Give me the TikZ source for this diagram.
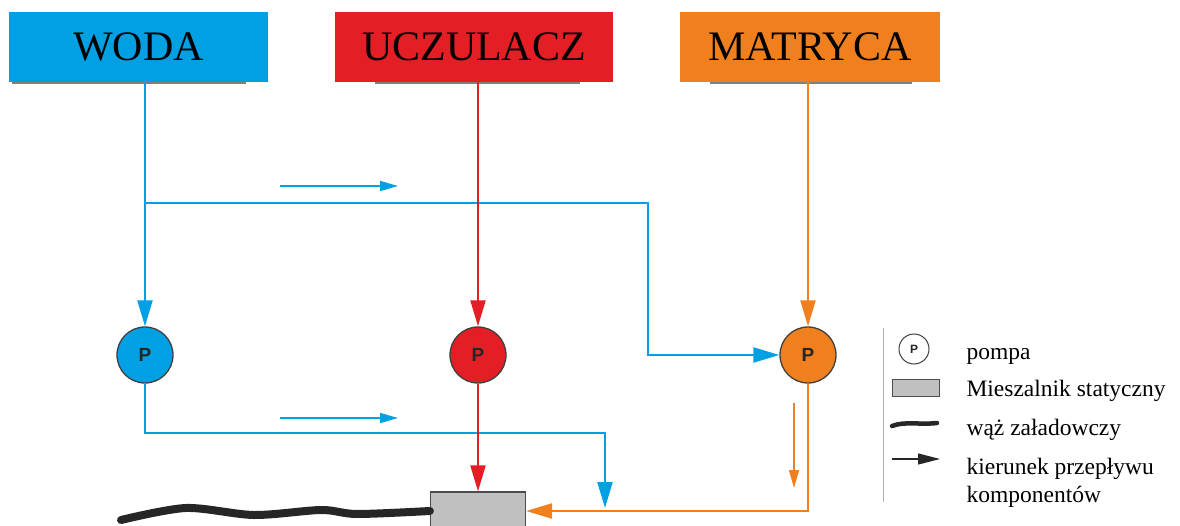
\documentclass[tikz,border=0pt]{standalone}
\usepackage{fontspec}
\setmainfont{Liberation Serif}
\newfontfamily\pumpfont{Liberation Sans}
\usetikzlibrary{arrows.meta}
\definecolor{woda}{RGB}{0,160,227}
\definecolor{uczul}{RGB}{227,30,36}
\definecolor{matr}{RGB}{240,128,30}
\definecolor{mixgray}{RGB}{192,192,192}

\begin{document}
\begin{tikzpicture}[
    x=1pt,y=-1pt,
    tank/.style={minimum width=#1, minimum height=70, inner sep=0pt, font=\fontsize{42}{46}\selectfont},
    pump/.style={circle, draw=black!75, line width=1.3pt, minimum size=56, inner sep=0pt,
      font=\pumpfont\bfseries\fontsize{19}{19}\selectfont, text=black!85},
    pipe/.style={line width=2.2pt},
    feed/.style={pipe, -{Triangle[length=26,width=15]}},
    flow/.style={line width=1.6pt, -{Triangle[length=18,width=10]}},
    hose/.style={line width=7pt, line cap=round, black!85},
    legtext/.style={anchor=west, font=\fontsize{23.5}{28}\selectfont}
    ]
  \useasboundingbox (0,0) rectangle (1180,526);
  % zbiorniki
  \draw[gray, line width=1.5pt] (12,83) -- (246,83);
  \draw[gray, line width=1.5pt] (375,83) -- (580,83);
  \draw[gray, line width=1.5pt] (710,83) -- (912,83);
  \node[tank=259, fill=woda] (woda) at (138.5,47) {WODA};
  \node[tank=278, fill=uczul] (uczulacz) at (474,47) {UCZULACZ};
  \node[tank=260, fill=matr] (matryca) at (810,47) {MATRYCA};
  % pompy i mieszalnik
  \node[pump, fill=woda] (pumpW) at (145,355) {P};
  \node[pump, fill=uczul] (pumpU) at (478,355) {P};
  \node[pump, fill=matr] (pumpM) at (808,355) {P};
  \node[draw=black!70, line width=1.2pt, fill=mixgray, minimum width=95, minimum height=38, inner sep=0pt] (mixer) at (478,511) {};
  \coordinate (split) at (145,203);
  \coordinate (bend) at (648,355);
  \coordinate (lowbend) at (605,433);
  \coordinate (bluein) at (605,508);
  % rurociagi
  \draw[feed, woda] (pumpW |- woda.south) -- (pumpW.north);
  \draw[feed, woda] (split) -| (bend) -- (pumpM.west);
  \draw[feed, woda] (pumpW.south) |- (lowbend) -- (bluein);
  \draw[feed, uczul] (pumpU |- uczulacz.south) -- (pumpU.north);
  \draw[feed, uczul] (pumpU.south) -- (mixer.north);
  \draw[feed, matr] (pumpM |- matryca.south) -- (pumpM.north);
  \draw[feed, matr] (pumpM.south) |- (mixer.east);
  % kierunek przeplywu
  \draw[flow, woda] (280,186) -- (398,186);
  \draw[flow, woda] (280,418) -- (398,418);
  \draw[flow, matr] (794,403) -- (794,488);
  % waz
  \draw[hose, line width=8pt] plot[smooth] coordinates {(121,520) (186,508) (254,515) (321,510) (357,514) (mixer.west)};
  % legenda
  \draw[gray!60, line width=0.8pt] (883,328) -- (883,502);
  \node[pump, minimum size=30, line width=1pt, fill=white, font=\pumpfont\bfseries\fontsize{12}{12}\selectfont] (legpump) at (914,349) {P};
  \node[draw=black!70, line width=0.9pt, fill=mixgray, minimum width=47, minimum height=17, inner sep=0pt] (legmix) at (915.5,388) {};
  \draw[hose, line width=4.5pt] (892,426) .. controls (905,421) and (920,425) .. (937,423);
  \draw[line width=1.3pt, black!85, -{Triangle[length=22,width=11]}] (892,459) -- (940,459);
  \node[legtext] (legpumptxt) at (963,356) {pompa};
  \node[legtext] (legmixtxt) at (963,391) {Mieszalnik statyczny};
  \node[legtext] (leghosetxt) at (963,430) {wąż załadowczy};
  \node[legtext, align=left] (legflowtxt) at (963,483) {kierunek przepływu\\komponentów};
\end{tikzpicture}
\end{document}
